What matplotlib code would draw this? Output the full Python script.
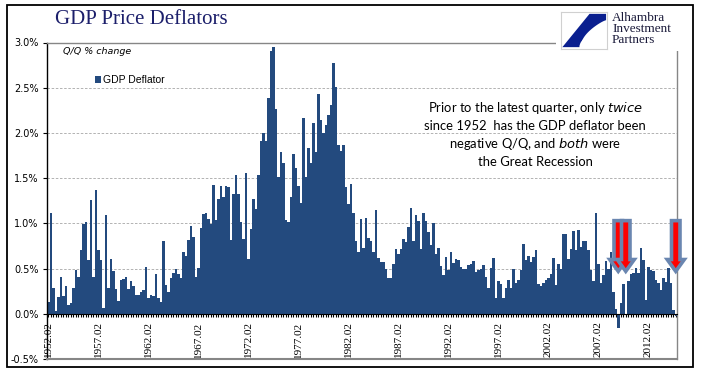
import matplotlib
matplotlib.use('Agg')
import matplotlib.pyplot as plt
import matplotlib.patches as mpatches
import numpy as np

# ── Data: GDP deflator, Q/Q % change, 1952.Q2 - 2015.Q1 ──────────────────
vals_1952 = [0.13, 1.12, 0.29, 0.03, 0.19, 0.41, 0.20, 0.31, 0.10, 0.12,
             0.28, 0.48, 0.41, 0.70, 0.99, 1.01, 0.60, 1.26, 0.41, 1.37,
             0.70, 0.60, 0.06, 1.09, 0.29, 0.61, 0.47, 0.27, 0.14, 0.37,
             0.39, 0.41, 0.27, 0.36, 0.31, 0.21, 0.21, 0.24, 0.26, 0.52,
             0.17, 0.21, 0.20, 0.44, 0.17, 0.13, 0.81, 0.32, 0.24, 0.40]
vals_1964 = [0.45, 0.50, 0.44, 0.40, 0.68, 0.64, 0.82, 0.97, 0.85, 0.41,
             0.51, 0.95, 1.10, 1.11, 1.05, 0.99, 1.42, 1.04, 1.27, 1.41,
             1.29, 1.41, 1.40, 0.82, 1.32, 1.53, 1.32, 1.02, 0.83, 1.56,
             0.61, 0.94, 1.27, 1.16, 1.53, 1.91, 2.00, 1.91, 2.39, 2.91,
             2.95, 2.27, 1.51, 1.79, 1.67, 1.04, 1.02, 1.29, 1.77, 1.61]
vals_1977 = [1.41, 1.23, 2.17, 1.51, 1.83, 1.67, 2.11, 1.79, 2.43, 2.14,
             2.00, 2.09, 2.20, 2.31, 2.77, 2.51, 1.87, 1.80, 1.87, 1.40,
             1.21, 1.44, 1.11, 0.81, 0.68, 1.05, 0.73, 1.06, 0.84, 0.81,
             0.68, 1.15, 0.62, 0.57, 0.57, 0.49, 0.40, 0.40, 0.55, 0.72,
             0.66, 0.72, 0.83, 0.79, 0.96, 1.17, 0.80, 1.09, 1.03, 0.72]
vals_1989 = [1.11, 1.03, 0.90, 0.76, 1.00, 0.66, 0.73, 0.53, 0.43, 0.63,
             0.48, 0.68, 0.56, 0.61, 0.60, 0.52, 0.50, 0.50, 0.54, 0.55,
             0.58, 0.46, 0.48, 0.50, 0.54, 0.41, 0.28, 0.51, 0.62, 0.18,
             0.36, 0.33, 0.17, 0.28, 0.37, 0.29, 0.50, 0.34, 0.37, 0.48,
             0.77, 0.59, 0.64, 0.57, 0.63, 0.71, 0.33, 0.31, 0.34, 0.37]
vals_2002 = [0.40, 0.44, 0.62, 0.32, 0.55, 0.50, 0.88, 0.88, 0.61, 0.72,
             0.92, 0.71, 0.93, 0.74, 0.80, 0.81, 0.70, 0.48, 0.36, 1.12,
             0.55, 0.34, 0.43, 0.58, 0.50, 0.68, 0.24, 0.05, -0.16, 0.12,
             0.33, -0.01, 0.36, 0.44, 0.45, 0.51, 0.45, 0.73, 0.59, 0.15,
             0.52, 0.48, 0.47, 0.37, 0.34, 0.26, 0.40, 0.35, 0.51, 0.34,
             0.04, -0.02]
deflator = vals_1952 + vals_1964 + vals_1977 + vals_1989 + vals_2002
first_year = 1952
label_years = list(range(1952, 2013, 5))

# ── Style ──────────────────────────────────────────────────────────────
C_BAR   = "#234a7e"
C_NAVY  = "#1c1f6b"
C_GRID  = "#a6a6a6"
C_FRAME = "#868686"
C_RED   = "#ff0000"
C_ARROW = "#6a86b0"

W, H = 705, 375
fig = plt.figure(figsize=(W / 100, H / 100), dpi=100)
fig.patch.set_facecolor("white")

def fx(px):
    return px / W

def fy(py):
    return 1 - py / H

ax = fig.add_axes([fx(47), fy(359), fx(677) - fx(47), fy(42.5) - fy(359)])

n = len(deflator)
idx = np.arange(n)
ax.bar(idx, deflator, width=1.0, color=C_BAR, lw=0, zorder=2, label="GDP Deflator")

ax.set_xlim(-0.5, n - 0.5)
ax.set_ylim(-0.5, 3.0)

# y axis
yt = np.arange(-0.5, 3.01, 0.5)
ax.set_yticks(yt)
ax.set_yticklabels([f"{v:.1f}%" for v in yt], fontsize=7, family="DejaVu Sans")
ax.tick_params(axis="y", direction="out", length=3, width=0.8, pad=3, color="black")
for v in yt[2:-1]:
    ax.axhline(v, color=C_GRID, lw=0.6, ls=(0, (3, 2)), zorder=1)

# x axis sits at zero; labels every 5 years
ax.spines["bottom"].set_position(("data", 0))
ax.spines["bottom"].set_zorder(3)
ax.set_xticks(idx)
labels = [""] * n
for y in label_years:
    i = (y - first_year) * 4
    if i < n:
        labels[i] = f"{y}.02"
ax.set_xticklabels(labels, rotation=90, fontsize=8, family="Liberation Serif",
                   va="top", ha="center")
ax.tick_params(axis="x", direction="out", length=2.5, width=0.8, pad=3, color="black")

for s in ["top", "right"]:
    ax.spines[s].set_color(C_FRAME)
    ax.spines[s].set_linewidth(1.0)
ax.spines["left"].set_linewidth(1.0)
ax.axhline(-0.5, color=C_FRAME, lw=1.5, clip_on=False, zorder=3)

# legend + sub-label
ax.legend(loc="center left", bbox_to_anchor=(0.062, 0.88), frameon=False,
          handlelength=0.55, handleheight=0.7, handletextpad=0.2,
          prop={"family": "Liberation Sans", "size": 7.5})
ax.text(0.025, 0.97, "Q/Q % change", transform=ax.transAxes, fontsize=6.8,
        style="italic", family="DejaVu Sans", va="center", ha="left")

# annotation
ax.text(0.775, 0.711,
        "Prior to the latest quarter, only $\\it{twice}$\n"
        "since 1952  has the GDP deflator been\n"
        "negative Q/Q, and $\\it{both}$ were\n"
        "the Great Recession",
        transform=ax.transAxes, ha="center", va="center", fontsize=9.4,
        family="Lato", linespacing=1.4, zorder=4)

# red block arrows over the negative quarters
neg_idx = [i for i, v in enumerate(deflator) if v < 0]
for i in neg_idx:
    sw, hw = 1.7, 3.4
    top, base, tip = 1.03, 0.60, 0.47
    pts = [(i - sw, top), (i + sw, top), (i + sw, base), (i + hw, base),
           (i, tip), (i - hw, base), (i - sw, base)]
    ax.add_patch(mpatches.Polygon(pts, closed=True, facecolor=C_RED,
                                  edgecolor=C_ARROW, lw=2.6, zorder=5,
                                  clip_on=False, joinstyle="miter"))

# title
fig.text(fx(55), fy(20), "GDP Price Deflators", fontsize=15,
         family="Liberation Serif", color=C_NAVY, va="center", ha="left")

# logo block
fig.patches.append(mpatches.Rectangle((fx(556), fy(51)), fx(690) - fx(556),
                                      fy(8) - fy(51), transform=fig.transFigure,
                                      facecolor="white", edgecolor="none", zorder=5))
lax = fig.add_axes([fx(561), fy(49), fx(607) - fx(561), fy(12) - fy(49)], zorder=6)
lax.set_xlim(0, 1); lax.set_ylim(0, 1)
lax.set_xticks([]); lax.set_yticks([])
for s in lax.spines.values():
    s.set_color("#d0d0d0"); s.set_linewidth(0.8)
t = np.linspace(0, 1, 30)
curve = [(0.98 - 0.55 * np.sin(np.pi * tt / 2) ** 0.8, 0.78 - 0.72 * tt) for tt in t]
blue = [(0.62, 0.95), (0.98, 0.95)] + curve[:-1] + [(0.95, 0.05), (0.03, 0.05)]
lax.add_patch(mpatches.Polygon(blue, closed=True, facecolor="#0a1f8f", edgecolor="none"))
lax.add_patch(mpatches.Ellipse((0.95, 0.05), 1.1, 0.8, facecolor="white", edgecolor="none"))
fig.text(fx(612), fy(12), "Alhambra\nInvestment\nPartners", fontsize=9.5,
         family="Liberation Serif", color="#1a1a3a", va="top", ha="left",
         linespacing=0.88, zorder=7)

# outer frame
fig.patches.append(mpatches.Rectangle((fx(7), fy(367)), fx(693) - fx(7),
                                      fy(5) - fy(367), transform=fig.transFigure,
                                      facecolor="none", edgecolor="black", lw=1.3,
                                      zorder=8))

fig.savefig("out.png", dpi=100, facecolor="white")
